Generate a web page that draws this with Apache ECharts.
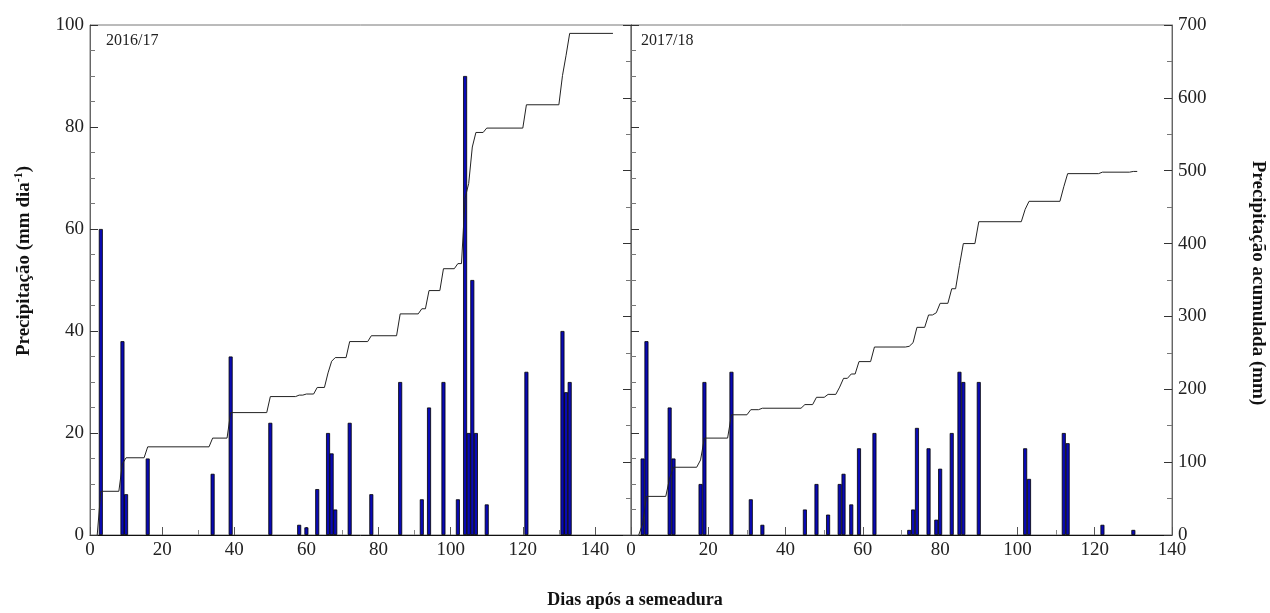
<!DOCTYPE html>
<html>
<head>
<meta charset="utf-8">
<script src="https://cdn.jsdelivr.net/npm/echarts@6/dist/echarts.min.js"></script>
<style>html,body{margin:0;padding:0;background:#fff}#c{width:1270px;height:613px}</style>
</head>
<body>
<div id="c"></div>
<script>
// 2016/17 daily rainfall [day, mm]
const rain1617 = [[3,60],[9,38],[10,8],[16,15],[34,12],[39,35],[50,22],[58,2],[60,1.5],[63,9],[66,20],[67,16],[68,5],[72,22],[78,8],[86,30],[92,7],[94,25],[98,30],[102,7],[104,90],[105,20],[106,50],[107,20],[110,6],[121,32],[131,40],[132,28],[133,30]];
// 2016/17 accumulated rainfall [day, mm]
const cum1617 = [[2,0],[3,60],[8,60],[9,98],[10,106],[15,106],[16,121],[33,121],[34,133],[38,133],[39,168],[49,168],[50,190],[57,190],[58,192],[59,192],[60,193.5],[62,193.5],[63,202.5],[65,202.5],[66,222.5],[67,238.5],[68,243.5],[71,243.5],[72,265.5],[77,265.5],[78,273.5],[85,273.5],[86,303.5],[91,303.5],[92,310.5],[93,310.5],[94,335.5],[97,335.5],[98,365.5],[101,365.5],[102,372.5],[103,372.5],[104,462.5],[105,482.5],[106,532.5],[107,552.5],[109,552.5],[110,558.5],[120,558.5],[121,590.5],[130,590.5],[131,630.5],[132,658.5],[133,688.5],[145,688.5]];
// 2017/18 daily rainfall [day, mm]
const rain1718 = [[3,15],[4,38],[10,25],[11,15],[18,10],[19,30],[26,32],[31,7],[34,2],[45,5],[48,10],[51,4],[54,10],[55,12],[57,6],[59,17],[63,20],[72,1],[73,5],[74,21],[77,17],[79,3],[80,13],[83,20],[85,32],[86,30],[90,30],[102,17],[103,11],[112,20],[113,18],[122,2],[130,1]];
// 2017/18 accumulated rainfall [day, mm]
const cum1718 = [[2,0],[3,15],[4,53],[9,53],[10,78],[11,93],[17,93],[18,103],[19,133],[25,133],[26,165],[30,165],[31,172],[33,172],[34,174],[44,174],[45,179],[47,179],[48,189],[50,189],[51,193],[53,193],[54,203],[55,215],[56,215],[57,221],[58,221],[59,238],[62,238],[63,258],[71,258],[72,259],[73,264],[74,285],[76,285],[77,302],[78,302],[79,305],[80,318],[82,318],[83,338],[84,338],[85,370],[86,400],[89,400],[90,430],[101,430],[102,447],[103,458],[111,458],[112,478],[113,496],[121,496],[122,498],[129,498],[130,499],[131,499]];
const xTicks = [0,20,40,60,80,100,120,140];
const panelLabels = ['2016/17','2017/18'];

const SERIF = '"Liberation Serif","DejaVu Serif",serif';
const chart = echarts.init(document.getElementById('c'));

function xAx(grid, max){
  return {type:'value', gridIndex:grid, min:0, max:max, interval:20,
    axisLine:{show:true, onZero:false, lineStyle:{color:'#111', width:1}},
    axisTick:{show:true, inside:true, length:8, lineStyle:{color:'#555'}},
    minorTick:{show:true, splitNumber:2, length:5, lineStyle:{color:'#888'}},
    splitLine:{show:false},
    axisLabel:{fontFamily:SERIF, fontSize:19, color:'#222', margin:6, showMaxLabel: max===140,
      formatter: v => xTicks.indexOf(v) >= 0 ? String(v) : ''}};
}
function yRain(grid, labels){
  return {type:'value', gridIndex:grid, min:0, max:100, interval:20, position:'left',
    axisLine:{show:true, lineStyle:{color:'#666'}},
    axisTick:{show:true, inside:true, length:8, lineStyle:{color:'#333'}},
    minorTick:{show:true, splitNumber:4, length:5, lineStyle:{color:'#777'}},
    splitLine:{show:false},
    axisLabel:{show:labels, fontFamily:SERIF, fontSize:19, color:'#222', margin:6}};
}
function yCum(grid, labels){
  return {type:'value', gridIndex:grid, min:0, max:700, interval:100, position:'right',
    axisLine:{show:true, lineStyle:{color:'#666'}},
    axisTick:{show:true, inside:true, length:8, lineStyle:{color:'#333'}},
    minorTick:{show:true, splitNumber:2, length:5, lineStyle:{color:'#777'}},
    splitLine:{show:false},
    axisLabel:{show:labels, fontFamily:SERIF, fontSize:19, color:'#222', margin:6}};
}
const barStyle = {color:'#0a0ab4', borderColor:'#000', borderWidth:0.8};

chart.setOption({
  animation:false,
  backgroundColor:'#fff',
  grid:[
    {left:90, top:25, width:541, height:510, show:true, borderColor:'#777', borderWidth:1},
    {left:631, top:25, width:541, height:510, show:true, borderColor:'#777', borderWidth:1}
  ],
  xAxis:[xAx(0,150), xAx(1,140)],
  yAxis:[yRain(0,true), yCum(0,false), yRain(1,false), yCum(1,true)],
  series:[
    {type:'bar', xAxisIndex:0, yAxisIndex:0, data:rain1617, barWidth:4, itemStyle:barStyle},
    {type:'line', xAxisIndex:0, yAxisIndex:1, data:cum1617, showSymbol:false, symbol:'none', lineStyle:{color:'#222', width:1}},
    {type:'bar', xAxisIndex:1, yAxisIndex:2, data:rain1718, barWidth:4, itemStyle:barStyle},
    {type:'line', xAxisIndex:1, yAxisIndex:3, data:cum1718, showSymbol:false, symbol:'none', lineStyle:{color:'#222', width:1}}
  ],
  graphic:[
    {type:'text', left:106, top:33, style:{text:panelLabels[0], font:'16px '+SERIF, fill:'#222'}},
    {type:'text', left:641, top:33, style:{text:panelLabels[1], font:'16px '+SERIF, fill:'#222'}},
    {type:'text', x:24, y:261, rotation:Math.PI/2, style:{
      text:'{a|Precipitação (mm dia}{s|-1}{a|)}', align:'center', verticalAlign:'middle',
      rich:{a:{fontFamily:SERIF, fontSize:19, fontWeight:'bold', fill:'#111'},
            s:{fontFamily:SERIF, fontSize:12, fontWeight:'bold', fill:'#111', verticalAlign:'top', padding:[0,0,10,0]}}}},
    {type:'text', x:1258, y:283, rotation:-Math.PI/2, style:{
      text:'Precipitação acumulada (mm)', align:'center', verticalAlign:'middle',
      font:'bold 19px '+SERIF, fill:'#111'}},
    {type:'text', x:635, y:600, style:{text:'Dias após a semeadura', align:'center', verticalAlign:'middle',
      font:'bold 18px '+SERIF, fill:'#111'}}
  ]
});
</script>
</body>
</html>
